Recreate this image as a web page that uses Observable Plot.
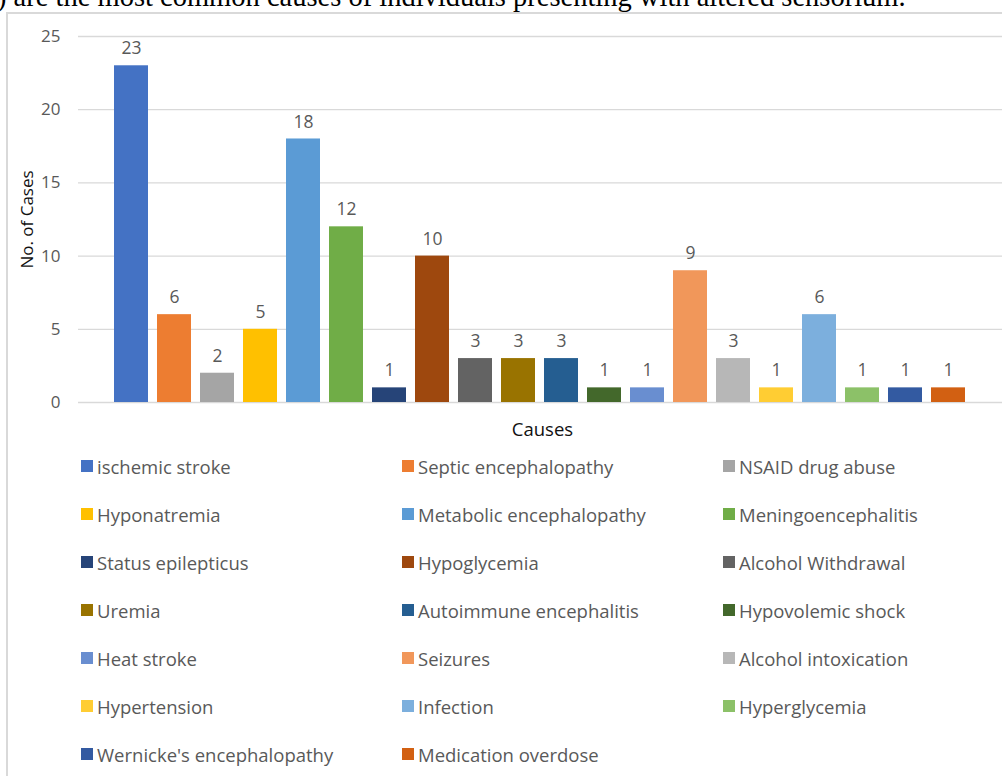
<!DOCTYPE html>
<html>
<head>
<meta charset="utf-8">
<script src="https://cdn.jsdelivr.net/npm/d3@7"></script>
<script src="https://cdn.jsdelivr.net/npm/@observablehq/plot@0.6"></script>
<style>
  html, body { margin: 0; padding: 0; background: #fff; overflow: hidden; }
  body { width: 1002px; height: 776px; position: relative; }
  #caption { position: absolute; left: -3px; top: -17px; white-space: nowrap;
    font-family: "Liberation Serif", serif; font-size: 28.5px; line-height: 28.5px; color: #000; }
  #frame { position: absolute; left: 6px; top: 12px; width: 1100px; height: 900px;
    border-left: 2px solid #d9d9d9; border-top: 2px solid #d9d9d9; }
  #chart { position: absolute; left: 0; top: 0; }
  #legend { position: absolute; left: 0; top: 0; font-family: "Open Sans", sans-serif; }
  .item { position: absolute; display: flex; align-items: center; white-space: nowrap;
    font-size: 18.5px; color: #595959; height: 22px; }
  .sw { width: 12px; height: 12px; margin-right: 4px; }
</style>
</head>
<body>
<div id="caption">) are the most common causes of individuals presenting with altered sensorium.</div>
<div id="frame"></div>
<div id="chart"></div>
<div id="legend"></div>
<script>
const causes = [
  "ischemic stroke", "Septic encephalopathy", "NSAID drug abuse",
  "Hyponatremia", "Metabolic encephalopathy", "Meningoencephalitis",
  "Status epilepticus", "Hypoglycemia", "Alcohol Withdrawal",
  "Uremia", "Autoimmune encephalitis", "Hypovolemic shock",
  "Heat stroke", "Seizures", "Alcohol intoxication",
  "Hypertension", "Infection", "Hyperglycemia",
  "Wernicke's encephalopathy", "Medication overdose"
];
const counts = [23, 6, 2, 5, 18, 12, 1, 10, 3, 3, 3, 1, 1, 9, 3, 1, 6, 1, 1, 1];
const colors = [
  "#4472C4", "#ED7D31", "#A5A5A5", "#FFC000", "#5B9BD5", "#70AD47",
  "#264478", "#9E480E", "#636363", "#997300", "#255E91", "#43682B",
  "#698ED0", "#F1975A", "#B7B7B7", "#FFCD33", "#7CAFDD", "#8CC168",
  "#335AA1", "#D26012"
];
const yTicks = [0, 5, 10, 15, 20, 25];
const yTitle = "No. of Cases";
const xTitle = "Causes";

const data = causes.map((c, i) => ({cause: c, count: counts[i]}));

const chart = Plot.plot({
  width: 1002,
  height: 445,
  marginLeft: 78,
  marginRight: 0,
  marginTop: 36,
  marginBottom: 43,
  style: {fontFamily: "Open Sans, sans-serif", fontSize: "17px", color: "#595959", background: "transparent"},
  x: {domain: causes, paddingInner: 0.2, paddingOuter: 0.84, axis: null},
  y: {domain: [0, 25], ticks: yTicks, tickSize: 0, tickPadding: 18, label: null},
  color: {domain: causes, range: colors},
  marks: [
    Plot.ruleY(yTicks, {stroke: "#d9d9d9", strokeWidth: 1.3}),
    Plot.barY(data, {x: "cause", y: "count", fill: "cause"}),
    Plot.text(data, {x: "cause", y: "count", text: d => String(d.count), dy: -17, fill: "#595959", fontSize: 17.5}),
    Plot.text([yTitle], {frameAnchor: "left", textAnchor: "middle", rotate: -90, dx: -51, fill: "#111", fontSize: 17}),
    Plot.text([xTitle], {frameAnchor: "bottom", textAnchor: "middle", dy: 33, dx: 2, fill: "#111", fontSize: 18.5})
  ]
});
document.getElementById("chart").appendChild(chart);

// Legend: 3 columns, rows in order
const legend = document.getElementById("legend");
const colX = [81, 402, 723];
const rowY = [466, 514, 562, 610, 658, 706, 754];
causes.forEach((c, i) => {
  const item = document.createElement("div");
  item.className = "item";
  item.style.left = colX[i % 3] + "px";
  item.style.top = (rowY[Math.floor(i / 3)] - 11) + "px";
  const sw = document.createElement("span");
  sw.className = "sw";
  sw.style.background = colors[i];
  const tx = document.createElement("span");
  tx.textContent = c;
  item.appendChild(sw);
  item.appendChild(tx);
  legend.appendChild(item);
});
</script>
</body>
</html>
